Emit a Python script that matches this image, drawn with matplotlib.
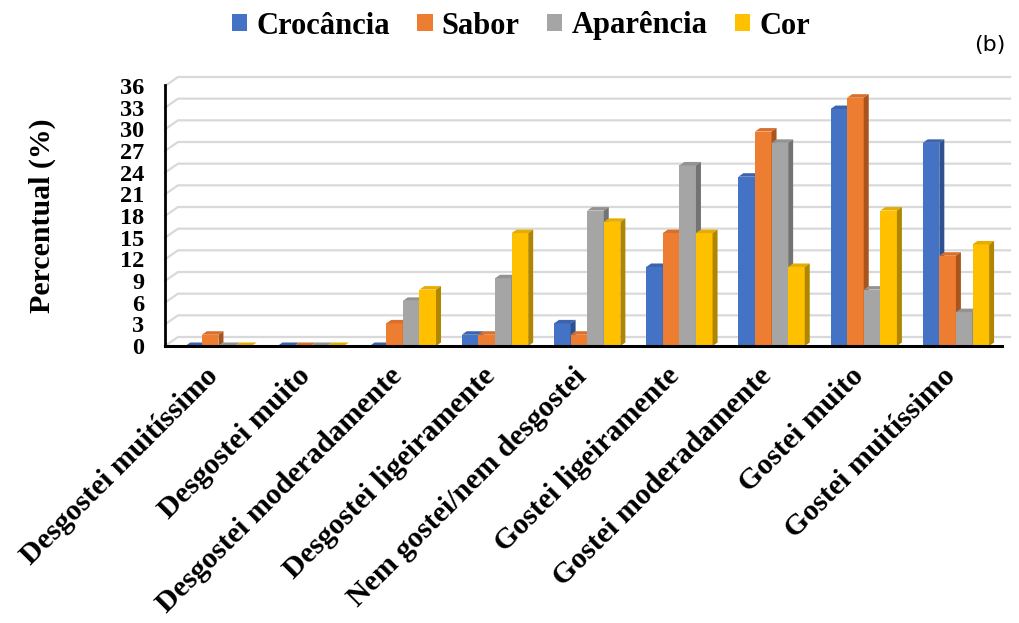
import matplotlib
matplotlib.use("Agg")
import matplotlib.pyplot as plt
from matplotlib.patches import Polygon, Patch
from matplotlib.transforms import ScaledTranslation
import numpy as np

categories = ["Desgostei muitíssimo", "Desgostei muito", "Desgostei moderadamente",
              "Desgostei ligeiramente", "Nem gostei/nem desgostei", "Gostei ligeiramente",
              "Gostei moderadamente", "Gostei muito", "Gostei muitíssimo"]
series_names = ["Crocância", "Sabor", "Aparência", "Cor"]
crocancia = [0, 0, 0, 1.56, 3.13, 10.94, 23.44, 32.81, 28.13]
sabor = [1.56, 0, 3.13, 1.56, 1.56, 15.63, 29.69, 34.38, 12.5]
aparencia = [0, 0, 6.25, 9.38, 18.75, 25.0, 28.13, 7.81, 4.69]
cor = [0, 0, 7.81, 15.63, 17.19, 15.63, 10.94, 18.75, 14.06]
yticks = list(range(0, 37, 3))

front_colors = ["#4472C4", "#ED7D31", "#A5A5A5", "#FFC000"]
side_colors = ["#2E5090", "#A9541C", "#737373", "#B08600"]
top_colors = ["#3B64AD", "#D96F2A", "#939393", "#E6AD00"]

plt.rcParams['font.family'] = ['Liberation Serif', 'DejaVu Serif']
fig = plt.figure(figsize=(10.2, 6.23), dpi=100)
W, H = 1020, 623
ax_l, ax_r, ax_b, ax_t = 165, 1002, 346, 86
ax = fig.add_axes([ax_l / W, (H - ax_b) / H, (ax_r - ax_l) / W, (ax_b - ax_t) / H])
xmin, xmax = -0.58, 8.5
ymin, ymax = 0, 36
ax.set_xlim(xmin, xmax)
ax.set_ylim(ymin, ymax)
pxx = (ax_r - ax_l) / (xmax - xmin)
pxy = (ax_b - ax_t) / (ymax - ymin)

# back wall offsets
wdx, wdy = 13 / pxx, 9 / pxy
for y in yticks:
    ax.plot([xmin, xmin + wdx, xmax + 8 / pxx], [y, y + wdy, y + wdy], color="#D9D9D9",
            lw=1.6, clip_on=False, zorder=0)

# bars with fake depth
data = [crocancia, sabor, aparencia, cor]
n = len(series_names)
bw = 0.18
bdx, bdy = 5 / pxx, 3.5 / pxy
x = np.arange(len(categories))
z = 2
for ci in range(len(categories)):
    for si in range(n):
        h = data[si][ci]
        x0 = x[ci] - n * bw / 2 + si * bw
        ax.bar(x0, h, width=bw, align="edge", color=front_colors[si], zorder=z, lw=0)
        top = Polygon([(x0, h), (x0 + bdx, h + bdy), (x0 + bw + bdx, h + bdy), (x0 + bw, h)],
                      closed=True, facecolor=top_colors[si], edgecolor="none", zorder=z, clip_on=False)
        side = Polygon([(x0 + bw, 0), (x0 + bw + bdx, bdy), (x0 + bw + bdx, h + bdy), (x0 + bw, h)],
                       closed=True, facecolor=side_colors[si], edgecolor="none", zorder=z, clip_on=False)
        ax.add_patch(top)
        ax.add_patch(side)
        z += 1

for s in ax.spines.values():
    s.set_visible(False)
ax.plot([xmin, xmin], [0, 36.2], color="black", lw=2, clip_on=False, zorder=z + 1)
ax.plot([xmin, xmax], [0, 0], color="black", lw=2.2, clip_on=False, zorder=z + 1)

ax.set_yticks(yticks)
ax.set_yticklabels([str(v) for v in yticks], fontsize=17.5, fontweight="bold")
ax.tick_params(axis="y", length=0, pad=15)
ax.set_xticks(x)
ax.set_xticklabels(categories, rotation=45, ha="right", va="top", rotation_mode="anchor",
                   fontsize=21.5, fontweight="bold")
ax.tick_params(axis="x", length=0, pad=12)
off = ScaledTranslation(-14 / 100, 0, fig.dpi_scale_trans)
for lab in ax.get_xticklabels():
    lab.set_transform(lab.get_transform() + off)
ax.set_ylabel("Percentual (%)", fontsize=21.5, fontweight="bold", labelpad=46)

handles = [Patch(facecolor=c, edgecolor="none") for c in front_colors]
fig.legend(handles, series_names, loc="center", bbox_to_anchor=(521 / W, 1 - 26 / H), ncol=4,
           frameon=False, prop={"weight": "bold", "size": 22}, handlelength=0.5,
           handleheight=0.5, handletextpad=0.3, columnspacing=0.9)
fig.text(990 / W, 1 - 45 / H, "(b)", fontsize=16, family="DejaVu Sans", ha="center", va="center")

fig.savefig("out.png", dpi=100)
